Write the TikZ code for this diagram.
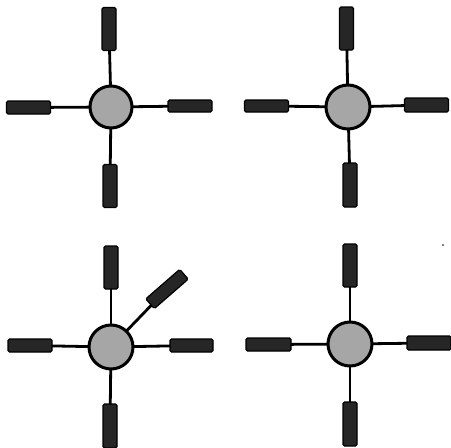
\documentclass[tikz,border=0pt]{standalone}
\begin{document}
\begin{tikzpicture}[x=1pt,y=-1pt,
  hub/.style={circle,draw=black,line width=3pt,fill=black!35,minimum size=42pt,inner sep=0pt,outer sep=0pt},
  hbar/.style={rectangle,rounded corners=1.5pt,draw=black,line width=1.2pt,fill=black!85,minimum width=44pt,minimum height=13pt,inner sep=0pt,outer sep=0pt},
  vbar/.style={rectangle,rounded corners=1.5pt,draw=black,line width=1.2pt,fill=black!85,minimum width=14pt,minimum height=43pt,inner sep=0pt,outer sep=0pt},
  spoke/.style={draw=black,line width=2.8pt}]
\useasboundingbox (0,0) rectangle (451,448);
% panel 1
\node[hub] (c1) at (111,107) {};
\node[vbar] (t1) at (109,29) {};
\node[hbar] (l1) at (28.5,107.5) {};
\node[hbar,minimum height=12pt] (r1) at (190,106) {};
\node[vbar] (b1) at (110,186) {};
\foreach \n in {t1,l1,r1,b1} \draw[spoke] (c1) -- (\n);
% panel 2
\node[hub,minimum size=44pt] (c2) at (348,107) {};
\node[vbar] (t2) at (346.5,28.5) {};
\node[hbar,minimum height=12pt] (l2) at (266.5,106) {};
\node[hbar,minimum height=14pt] (r2) at (426.5,105) {};
\node[vbar,minimum height=44pt] (b2) at (350,185) {};
\foreach \n in {t2,l2,r2,b2} \draw[spoke] (c2) -- (\n);
% panel 3
\node[hub,minimum size=44pt] (c3) at (111,347) {};
\node[vbar] (t3) at (111,267.5) {};
\node[hbar] (l3) at (30,345.5) {};
\node[hbar,minimum width=43pt] (r3) at (191.5,345.5) {};
\node[vbar,minimum height=44pt] (b3) at (110,426) {};
\node[hbar,minimum width=45pt,rotate=41] (d3) at (167,289) {};
\foreach \n in {t3,l3,r3,b3,d3} \draw[spoke] (c3) -- (\n);
% panel 4
\node[hub,minimum size=44pt] (c4) at (350,344) {};
\node[vbar] (t4) at (350,265.5) {};
\node[hbar,minimum width=45pt] (l4) at (268.5,344.5) {};
\node[hbar,minimum height=14pt] (r4) at (429,343) {};
\node[vbar,minimum height=44pt] (b4) at (350,424) {};
\foreach \n in {t4,l4,r4,b4} \draw[spoke] (c4) -- (\n);
\fill[black] (443,245) circle (0.9pt);
\end{tikzpicture}
\end{document}
